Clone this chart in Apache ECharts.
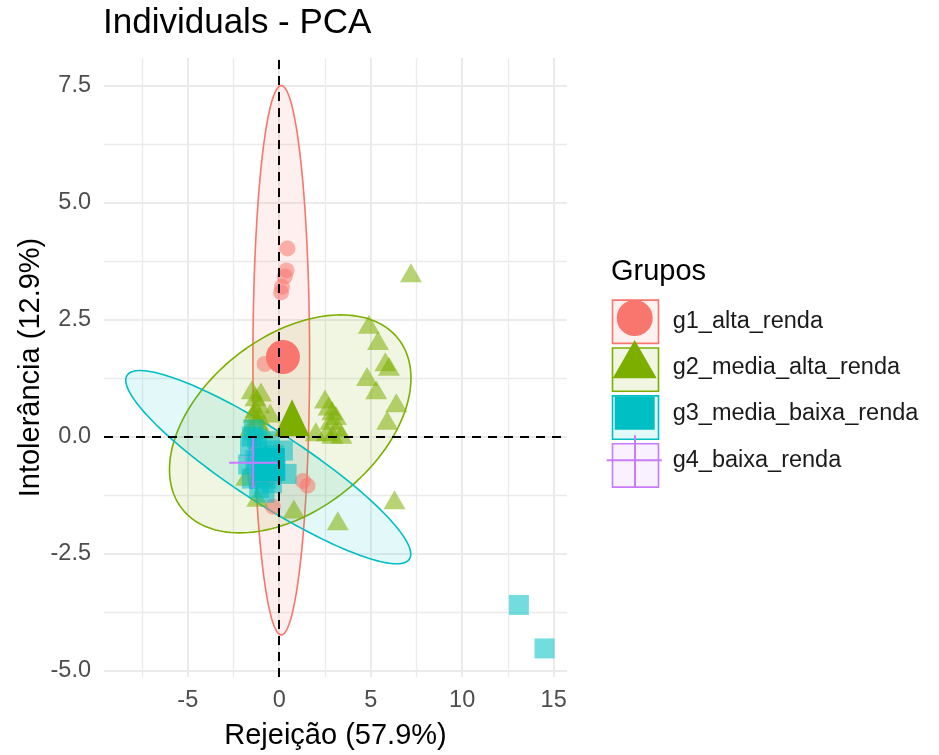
<!DOCTYPE html>
<html>
<head>
<meta charset="utf-8">
<script src="https://cdn.jsdelivr.net/npm/echarts@6/dist/echarts.min.js"></script>
<style>
html, body { margin: 0; padding: 0; background: #fff; }
#chart { width: 939px; height: 755px; }
</style>
</head>
<body>
<div id="chart"></div>
<script>
var groups = ['g1_alta_renda', 'g2_media_alta_renda', 'g3_media_baixa_renda', 'g4_baixa_renda'];
var colors = ['#F8766D', '#7CAE00', '#00BFC4', '#C77CFF'];

// individuals
var g1Points = [[0.45, 4.02], [0.4, 3.55], [0.3, 3.42], [0.15, 3.2], [0.1, 3.08], [-0.8, 1.55], [0.4, 1.7],
    [1.3, -0.95], [1.55, -1.05], [-0.35, -1.5], [-0.6, -0.9], [-1.0, -0.4]];
var g2Points = [[4.9, 2.4], [5.4, 2.05], [5.8, 1.6], [6.0, 1.5], [4.8, 1.28], [5.3, 1.0], [6.4, 0.72], [5.9, 0.35], [7.2, 3.5],
    [2.5, 0.8], [2.7, 0.65], [2.9, 0.55], [3.1, 0.45], [2.8, 0.35], [3.2, 0.2], [2.6, 0.1], [3.4, 0.05], [2.0, 0.1], [2.9, 0.05],
    [-1.5, 1.0], [-1.3, 0.85], [-1.1, 0.7], [-1.4, 0.5], [-1.2, 0.35], [-0.9, 0.15], [-1.6, 0.2], [-0.5, 0.5],
    [-1.0, 0.95], [-1.3, 0.6], [-1.1, 0.45],
    [6.3, -1.35], [3.2, -1.8], [0.8, -1.55], [-1.8, -0.85], [-1.2, -1.3]];
var g3Points = [[-1.6, -0.2], [-1.4, 0.15], [-1.2, -0.05], [-1.7, -0.6], [-1.5, -0.9], [-1.1, -1.1], [-0.8, -1.2],
    [-0.4, -1.0], [-0.2, -0.7], [0.2, -0.3], [0.4, -0.8], [-0.9, -0.3], [-0.5, -0.1], [-1.0, -0.7],
    [-1.3, -0.5], [-0.7, -0.9], [-0.3, -0.4], [-1.5, 0.0],
    [13.1, -3.6], [14.5, -4.53]];
var g4Points = [[-1.9, -0.45], [-1.2, -0.25], [-1.3, -0.95]];
var groupMeans = [[0.2, 1.7], [0.7, 0.4], [-0.6, -0.6], [-1.43, -0.56]];

// ellipses: centre x, centre y, half width, half height, correlation
var ellipses = [
    [0.11, 1.63, 1.55, 5.87, 0.0],
    [0.6, 0.27, 6.6, 2.33, 0.42],
    [-0.6, -0.655, 7.79, 2.065, -0.9],
    [-1.45, -0.56, 0.25, 0.55, 0.3]
];

var xTicks = [-5, 0, 5, 10, 15];
var xMinor = [-7.5, -2.5, 2.5, 7.5, 12.5];
var yTicks = [-5, -2.5, 0, 2.5, 5, 7.5];
var yMinor = [-3.75, -1.25, 1.25, 3.75, 6.25];

var allPoints = [g1Points, g2Points, g3Points, g4Points];
var pointSymbols = ['circle', 'triangle', 'rect', 'path://M0,48 L100,48 L100,52 L0,52 Z M48,0 L52,0 L52,100 L48,100 Z'];
var pointSizes = [16, [22, 19], 20, 14];
var meanSizes = [34, [35, 37], 33, [48, 50]];

// legend keys (60x60 box, two tiny corner marks fix the frame)
var pad = 'M0,0 L0.01,0 L0,0.01 Z M60,60 L59.99,60 L60,59.99 Z ';
var legendIcons = [
    'path://' + pad + 'M12,26.7 A18,18 0 1,1 48,26.7 A18,18 0 1,1 12,26.7 Z',
    'path://' + pad + 'M30,2.3 L52,40.6 L8,40.6 Z',
    'path://' + pad + 'M10,12.5 L50,12.5 L50,45.8 L10,45.8 Z',
    'path://' + pad + 'M2,29 L57,29 L57,31 L2,31 Z M29.3,5 L31.3,5 L31.3,56.7 L29.3,56.7 Z'
];

var fontFam = '"Liberation Sans", Arial, sans-serif';

function ellipseItem(params, api) {
    var cx = api.value(0), cy = api.value(1), rx = api.value(2), ry = api.value(3), r = api.value(4);
    var pts = [];
    for (var k = 0; k < 160; k++) {
        var t = 2 * Math.PI * k / 160;
        pts.push(api.coord([cx + rx * Math.cos(t), cy + ry * (r * Math.cos(t) + Math.sqrt(1 - r * r) * Math.sin(t))]));
    }
    var c = api.visual('color');
    return {
        type: 'polygon',
        shape: { points: pts },
        style: { fill: echarts.color.modifyAlpha(c, 0.11), stroke: c, lineWidth: 1.6 }
    };
}

var series = [];

// grid lines
series.push({
    type: 'scatter',
    data: [],
    silent: true,
    markLine: {
        silent: true,
        symbol: ['none', 'none'],
        label: { show: false },
        z: 1,
        animation: false,
        data: []
            .concat(xMinor.map(function (v) { return { xAxis: v, lineStyle: { color: '#EBEBEB', width: 1.3, type: 'solid' } }; }))
            .concat(yMinor.map(function (v) { return { yAxis: v, lineStyle: { color: '#EBEBEB', width: 1.3, type: 'solid' } }; }))
            .concat(xTicks.map(function (v) { return { xAxis: v, lineStyle: { color: '#EBEBEB', width: 2, type: 'solid' } }; }))
            .concat(yTicks.map(function (v) { return { yAxis: v, lineStyle: { color: '#EBEBEB', width: 2, type: 'solid' } }; }))
    }
});

groups.forEach(function (g, i) {
    series.push({
        name: g,
        type: 'custom',
        renderItem: ellipseItem,
        silent: true,
        z: 2,
        itemStyle: { color: colors[i] },
        encode: { x: 0, y: 1 },
        data: [ellipses[i]]
    });
});

groups.forEach(function (g, i) {
    series.push({
        name: g,
        type: 'scatter',
        z: 3,
        symbol: pointSymbols[i],
        symbolSize: pointSizes[i],
        itemStyle: { color: colors[i], opacity: 0.55 },
        data: allPoints[i]
    });
});

groups.forEach(function (g, i) {
    series.push({
        name: g,
        type: 'scatter',
        z: 4,
        symbol: pointSymbols[i],
        symbolSize: meanSizes[i],
        itemStyle: { color: colors[i], opacity: 1 },
        data: [groupMeans[i]]
    });
});

// dashed reference lines
series.push({
    type: 'scatter',
    data: [],
    silent: true,
    markLine: {
        silent: true,
        symbol: ['none', 'none'],
        label: { show: false },
        z: 10,
        animation: false,
        lineStyle: { color: '#000', width: 2, type: [9, 7] },
        data: [{ xAxis: 0 }, { yAxis: 0 }]
    }
});

var chart = echarts.init(document.getElementById('chart'));
chart.setOption({
    animation: false,
    backgroundColor: '#fff',
    textStyle: { fontFamily: fontFam },
    title: [
        { text: 'Individuals - PCA', left: 103, top: 6, padding: 0,
          textStyle: { fontSize: 35, fontWeight: 'normal', color: '#000', fontFamily: fontFam } },
        { text: 'Grupos', left: 611, top: 257, padding: 0,
          textStyle: { fontSize: 29, fontWeight: 'normal', color: '#000', fontFamily: fontFam } }
    ],
    grid: { left: 104, right: 372, top: 58, bottom: 77, containLabel: false },
    legend: [
        {
            orient: 'vertical', left: 611.7, top: 299.3, padding: 0,
            itemWidth: 46, itemHeight: 43.3, itemGap: 3,
            formatter: function () { return ''; },
            selectedMode: false,
            data: groups.map(function (g, i) {
                return { name: g, icon: 'rect',
                    itemStyle: { color: echarts.color.modifyAlpha(colors[i], 0.11), borderColor: colors[i], borderWidth: 1.6, opacity: 1 } };
            })
        },
        {
            orient: 'vertical', left: 604.7, top: 291.3, padding: 0,
            itemWidth: 60, itemHeight: 60, itemGap: -13.7,
            selectedMode: false,
            textStyle: { fontSize: 23.5, color: '#1A1A1A', fontFamily: fontFam, padding: [0, 0, 0, 3] },
            data: groups.map(function (g, i) {
                return { name: g, icon: legendIcons[i],
                    itemStyle: { color: colors[i], opacity: 1, borderWidth: 0 } };
            })
        }
    ],
    xAxis: {
        type: 'value', min: -9.58, max: 15.73,
        name: 'Rejeição (57.9%)', nameLocation: 'middle', nameGap: 44,
        nameTextStyle: { fontSize: 29, color: '#000', fontFamily: fontFam },
        axisLine: { show: false },
        splitLine: { show: false },
        axisTick: { show: true, customValues: xTicks, length: 6, lineStyle: { color: '#333', width: 1.6 } },
        axisLabel: { customValues: xTicks, fontSize: 23.5, color: '#4D4D4D', margin: 12, fontFamily: fontFam }
    },
    yAxis: {
        type: 'value', min: -5.14, max: 8.09,
        name: 'Intolerância (12.9%)', nameLocation: 'middle', nameGap: 59,
        nameTextStyle: { fontSize: 29, color: '#000', fontFamily: fontFam },
        axisLine: { show: false },
        splitLine: { show: false },
        axisTick: { show: true, customValues: yTicks, length: 6, lineStyle: { color: '#333', width: 1.6 } },
        axisLabel: { customValues: yTicks, fontSize: 23.5, color: '#4D4D4D', margin: 13, fontFamily: fontFam,
            formatter: function (v) { return v.toFixed(1); } }
    },
    series: series
});
</script>
</body>
</html>
